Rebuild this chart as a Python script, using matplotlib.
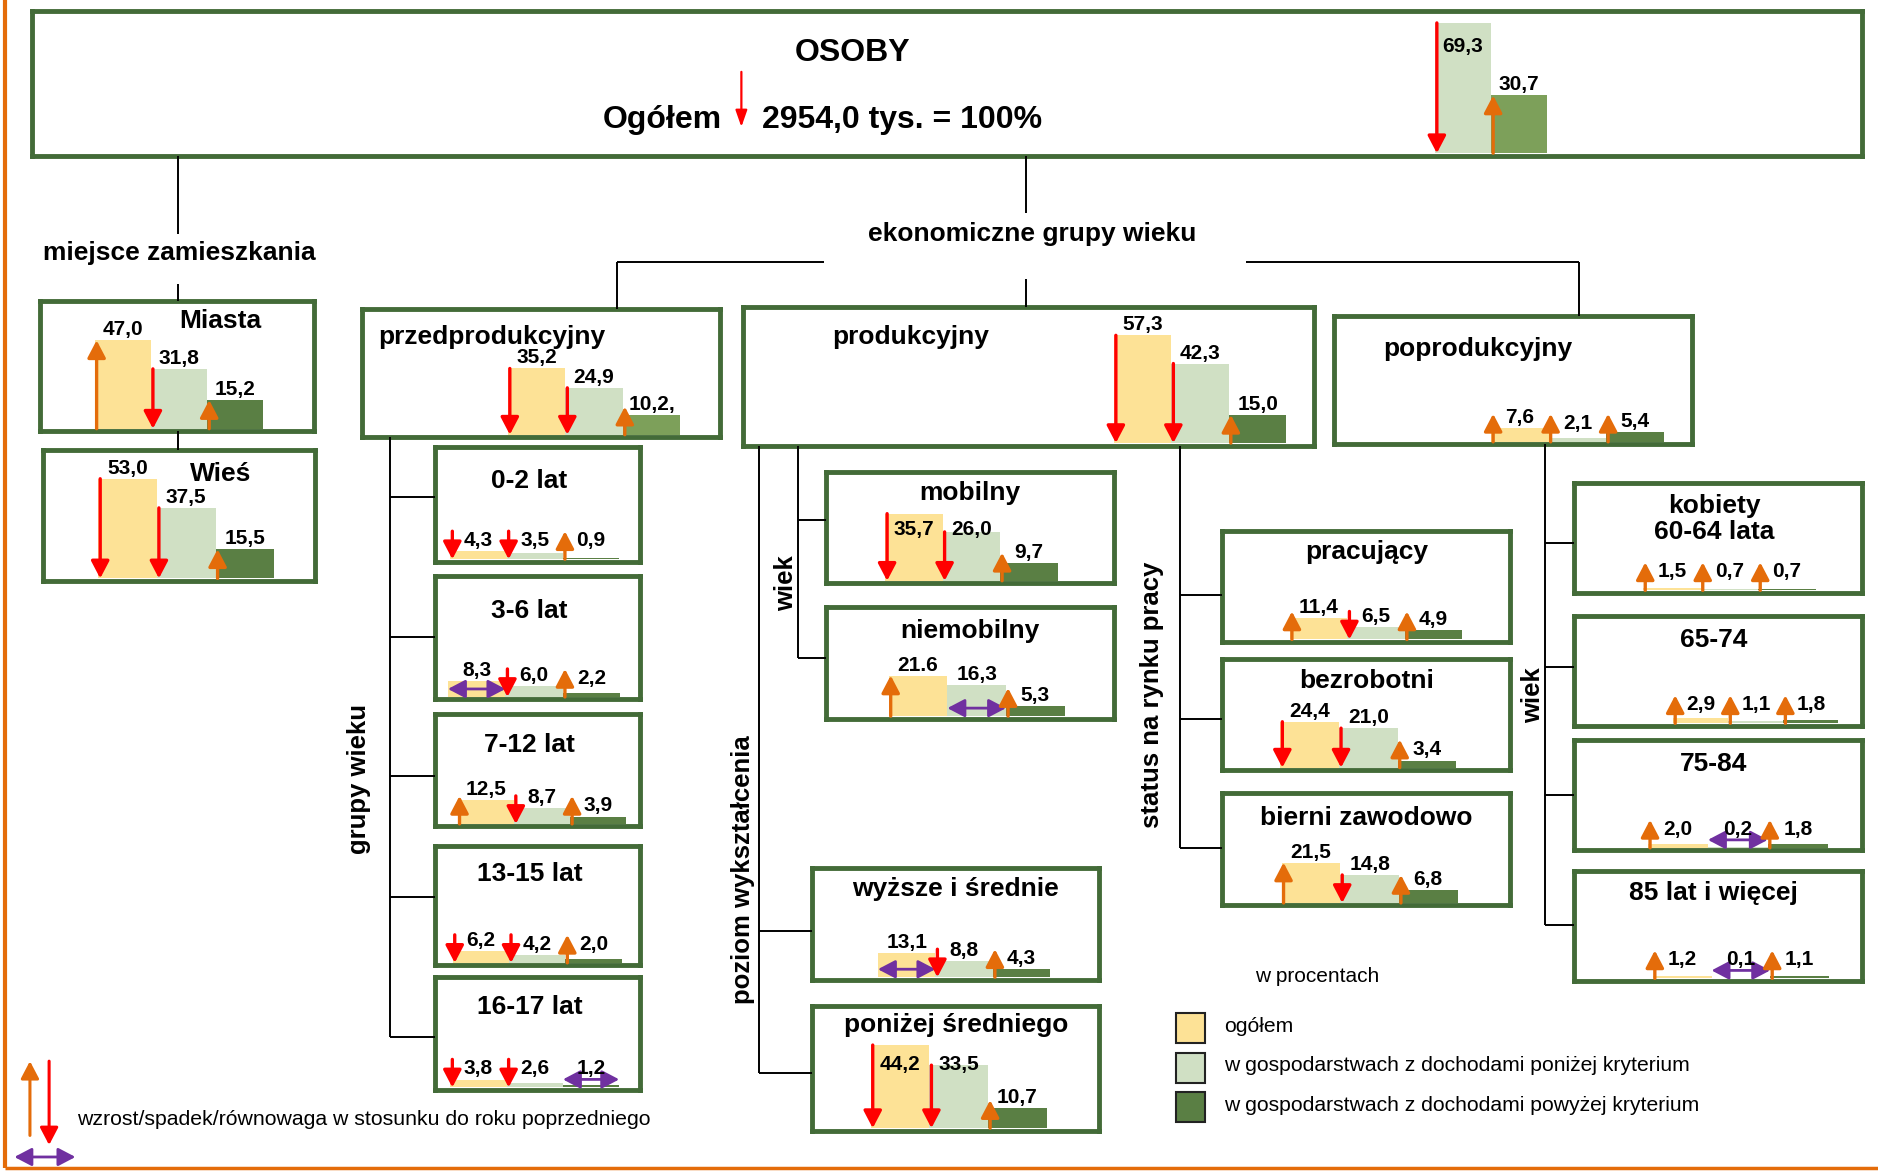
import matplotlib.pyplot as plt
from matplotlib.patches import Rectangle

plt.rcParams['font.family'] = ['Liberation Sans', 'DejaVu Sans']

W, H = 1878, 1171
K = W / 1568.0      # layout numbers below were measured on a 1568 px wide copy
SCALE = 1.88        # pixels per percentage point

YELLOW = '#FDE296'
LIGHT = '#D0E0C4'
DARK = '#5A7F44'
DARK2 = '#7DA05A'
EDGE = '#436B38'
RED = '#FF0000'
ORANGE = '#E46C0A'
PURPLE = '#7030A0'

# --- data: share of persons (%) ---
groups = ['OSOBY', 'Miasta', 'Wieś', 'przedprodukcyjny', 'produkcyjny', 'poprodukcyjny',
          '0-2 lat', '3-6 lat', '7-12 lat', '13-15 lat', '16-17 lat',
          'mobilny', 'niemobilny', 'wyższe i średnie', 'poniżej średniego',
          'pracujący', 'bezrobotni', 'bierni zawodowo',
          'kobiety\n60-64 lata', '65-74', '75-84', '85 lat i więcej']
ogolem = [None, 47.0, 53.0, 35.2, 57.3, 7.6, 4.3, 8.3, 12.5, 6.2, 3.8,
          35.7, 21.6, 13.1, 44.2, 11.4, 24.4, 21.5, 1.5, 2.9, 2.0, 1.2]
ponizej = [69.3, 31.8, 37.5, 24.9, 42.3, 2.1, 3.5, 6.0, 8.7, 4.2, 2.6,
           26.0, 16.3, 8.8, 33.5, 6.5, 21.0, 14.8, 0.7, 1.1, 0.2, 0.1]
powyzej = [30.7, 15.2, 15.5, 10.2, 15.0, 5.4, 0.9, 2.2, 3.9, 2.0, 1.2,
           9.7, 5.3, 4.3, 10.7, 4.9, 3.4, 6.8, 0.7, 1.8, 1.8, 1.1]
# change vs previous year: u = wzrost, d = spadek, r = równowaga
zmiana = ['-du', 'udu', 'ddu', 'ddu', 'ddu', 'uuu', 'ddu', 'rdu', 'udu', 'ddu', 'ddr',
          'ddu', 'uru', 'rdu', 'ddu', 'udu', 'ddu', 'udu', 'uuu', 'uuu', 'uru', 'uru']
label_fix = {(3, 2): '10,2,', (12, 0): '21.6'}

# --- layout (box x0, y0, x1, y1, title x, title y, align, first bar x, bar width, label ceiling) ---
layout = [
    (27, 9, 1555, 130, 712, 44, 'center', 1151, 47, 43),
    (33, 251, 262, 360, 184, 268, 'center', 79, 47, 262),
    (36, 376, 263, 485, 184, 396, 'center', 82, 49, 387),
    (302, 258, 601, 365, 316, 281, 'left', 424, 48, 300),
    (620, 256, 1097, 372, 695, 281, 'left', 930, 48, 266),
    (1114, 264, 1413, 371, 1155, 291, 'left', 1245, 48, 310),
    (363, 373, 534, 469, 442, 402, 'center', 376, 47, 420),
    (363, 481, 534, 584, 442, 510, 'center', 374, 48, 528),
    (363, 596, 534, 690, 442, 622, 'center', 382, 47, 640),
    (363, 706, 534, 806, 442, 730, 'center', 378, 47, 750),
    (363, 816, 534, 910, 442, 841, 'center', 376, 47, 860),
    (690, 394, 930, 487, 810, 412, 'center', 739, 48, 447),
    (690, 507, 930, 600, 810, 527, 'center', 742, 49, 545),
    (678, 725, 918, 818, 798, 742, 'center', 733, 48, 760),
    (678, 840, 918, 944, 798, 856, 'center', 727, 49, 893),
    (1020, 443, 1261, 536, 1141, 461, 'center', 1077, 48, 480),
    (1020, 550, 1261, 643, 1141, 569, 'center', 1069, 49, 590),
    (1020, 662, 1261, 756, 1141, 683, 'center', 1070, 49, 700),
    (1314, 403, 1555, 495, 1431, 433, 'center', 1372, 48, 468),
    (1314, 514, 1555, 606, 1431, 534, 'center', 1397, 46, 570),
    (1314, 618, 1555, 710, 1431, 638, 'center', 1376, 50, 680),
    (1314, 727, 1555, 819, 1431, 746, 'center', 1380, 49, 790),
]


def arrow(ax, p_from, p_to, color, both=False, lw=2.4, hl=1.05, hw=0.55):
    style = '<|-|>' if both else '-|>'
    ax.annotate('', xy=p_to, xytext=p_from, annotation_clip=False, zorder=5,
                arrowprops=dict(arrowstyle=f'{style},head_length={hl},head_width={hw}',
                                color=color, lw=lw, shrinkA=0, shrinkB=0, mutation_scale=10))


fig = plt.figure(figsize=(W / 100, H / 100), dpi=100)

for i, g in enumerate(groups):
    x0, y0, x1, y1, tx, ty, ha, bx, bw, ceil = layout[i]
    x0, y0, x1, y1 = x0 * K, y0 * K, x1 * K, y1 * K
    ax = fig.add_axes([x0 / W, 1 - y1 / H, (x1 - x0) / W, (y1 - y0) / H])
    pad = 2.5
    base = y1 - pad
    ax.set_xlim(x0, x1)
    ax.set_ylim(-pad / SCALE, (y1 - y0 - pad) / SCALE)
    ax.set_xticks([])
    ax.set_yticks([])
    for s in ax.spines.values():
        s.set_color(EDGE)
        s.set_linewidth(3.5)

    def u(ypx):
        return (base - ypx * K) / SCALE

    if i > 0:
        ax.text(tx * K, u(ty), g, ha=ha, va='center', fontsize=19, fontweight='bold',
                linespacing=1.1)
    vals = [ogolem[i], ponizej[i], powyzej[i]]
    cols = [YELLOW, LIGHT, DARK2 if i in (0, 3) else DARK]
    for j, v in enumerate(vals):
        if v is None:
            continue
        xl = (bx + j * bw) * K
        w = bw * K
        ax.bar(xl, v, width=w, align='edge', color=cols[j], zorder=1)
        ch = zmiana[i][j]
        L = max(v, 28 / SCALE)
        if ch == 'u':
            arrow(ax, (xl + 2, 0), (xl + 2, L), ORANGE)
        elif ch == 'd':
            arrow(ax, (xl + 2, L), (xl + 2, 0), RED)
        elif ch == 'r':
            arrow(ax, (xl, 8 / SCALE), (xl + w, 8 / SCALE), PURPLE, both=True, lw=2)
        txt = label_fix.get((i, j), f'{v:.1f}'.replace('.', ','))
        ly = min(max(v + 5 / SCALE, 13 / SCALE), u(ceil))
        ax.text(xl + w / 2, ly, txt, ha='center', va='baseline', fontsize=15,
                fontweight='bold', zorder=6)

# --- overlay: tree lines, headings, legends ---
ov = fig.add_axes([0, 0, 1, 1])
ov.set_xlim(0, W)
ov.set_ylim(H, 0)
ov.axis('off')


def line(xa, ya, xb, yb):
    ov.plot([xa * K, xb * K], [ya * K, yb * K], color='black', lw=1.4, solid_capstyle='butt')


tree = [
    (149, 130, 149, 195), (149, 237, 149, 251), (149, 360, 149, 376),
    (857, 130, 857, 178), (857, 233, 857, 256),
    (515, 219, 688, 219), (1040, 219, 1318, 219),
    (515, 219, 515, 258), (1318, 219, 1318, 264),
    (326, 365, 326, 866),
    (634, 372, 634, 896), (634, 777, 678, 777), (634, 896, 678, 896),
    (666, 372, 666, 549), (666, 434, 690, 434), (666, 549, 690, 549),
    (985, 372, 985, 708), (985, 497, 1020, 497), (985, 600, 1020, 600), (985, 708, 1020, 708),
    (1290, 371, 1290, 772),
]
for yy in (415, 532, 648, 749, 866):
    tree.append((326, yy, 363, yy))
for yy in (453, 557, 664, 772):
    tree.append((1290, yy, 1314, yy))
for t in tree:
    line(*t)

ov.text(712 * K, 44 * K, 'OSOBY', ha='center', va='center', fontsize=23, fontweight='bold')
ov.text(603 * K, 100 * K, 'Ogółem', ha='right', va='center', fontsize=23, fontweight='bold')
ov.text(636 * K, 100 * K, '2954,0 tys. = 100%', ha='left', va='center', fontsize=23,
        fontweight='bold')
arrow(ov, (619 * K, 60 * K), (619 * K, 106 * K), RED, lw=1.6, hl=1.0, hw=0.35)

ov.text(150 * K, 211 * K, 'miejsce zamieszkania', ha='center', va='center', fontsize=19,
        fontweight='bold')
ov.text(862 * K, 195 * K, 'ekonomiczne grupy wieku', ha='center', va='center', fontsize=19,
        fontweight='bold')
for s, xx, yy in [('grupy wieku', 300, 650), ('wiek', 656, 487),
                  ('poziom wykształcenia', 620, 726), ('status na rynku pracy', 962, 580),
                  ('wiek', 1280, 580)]:
    ov.text(xx * K, yy * K, s, rotation=90, ha='center', va='center', fontsize=18.5,
            fontweight='bold')

# legend of colours
ov.text(1100 * K, 815 * K, 'w procentach', ha='center', va='center', fontsize=15)
legend_txt = ['ogółem', 'w gospodarstwach z dochodami poniżej kryterium',
              'w gospodarstwach z dochodami powyżej kryterium']
for (c, t, yy) in zip([YELLOW, LIGHT, DARK], legend_txt, [846, 879, 912]):
    ov.add_patch(Rectangle((982 * K, yy * K), 24 * K, 25 * K, facecolor=c,
                           edgecolor='#222222', lw=1.5))
    ov.text(1022 * K, (yy + 11) * K, t, ha='left', va='center', fontsize=15.2)

# legend of arrows
arrow(ov, (25 * K, 948 * K), (25 * K, 886 * K), ORANGE, lw=2.2)
arrow(ov, (41 * K, 886 * K), (41 * K, 956 * K), RED, lw=2.2)
arrow(ov, (12 * K, 966 * K), (63 * K, 966 * K), PURPLE, both=True, lw=2)
ov.text(64 * K, 935 * K, 'wzrost/spadek/równowaga w stosunku do roku poprzedniego',
        ha='left', va='center', fontsize=15.3)

# orange frame on the left and bottom
ov.plot([5, 5], [0, 1168], color=ORANGE, lw=3, solid_capstyle='butt')
ov.plot([5, W], [1168, 1168], color=ORANGE, lw=2.5, solid_capstyle='butt')

fig.savefig('out.png', dpi=100)
